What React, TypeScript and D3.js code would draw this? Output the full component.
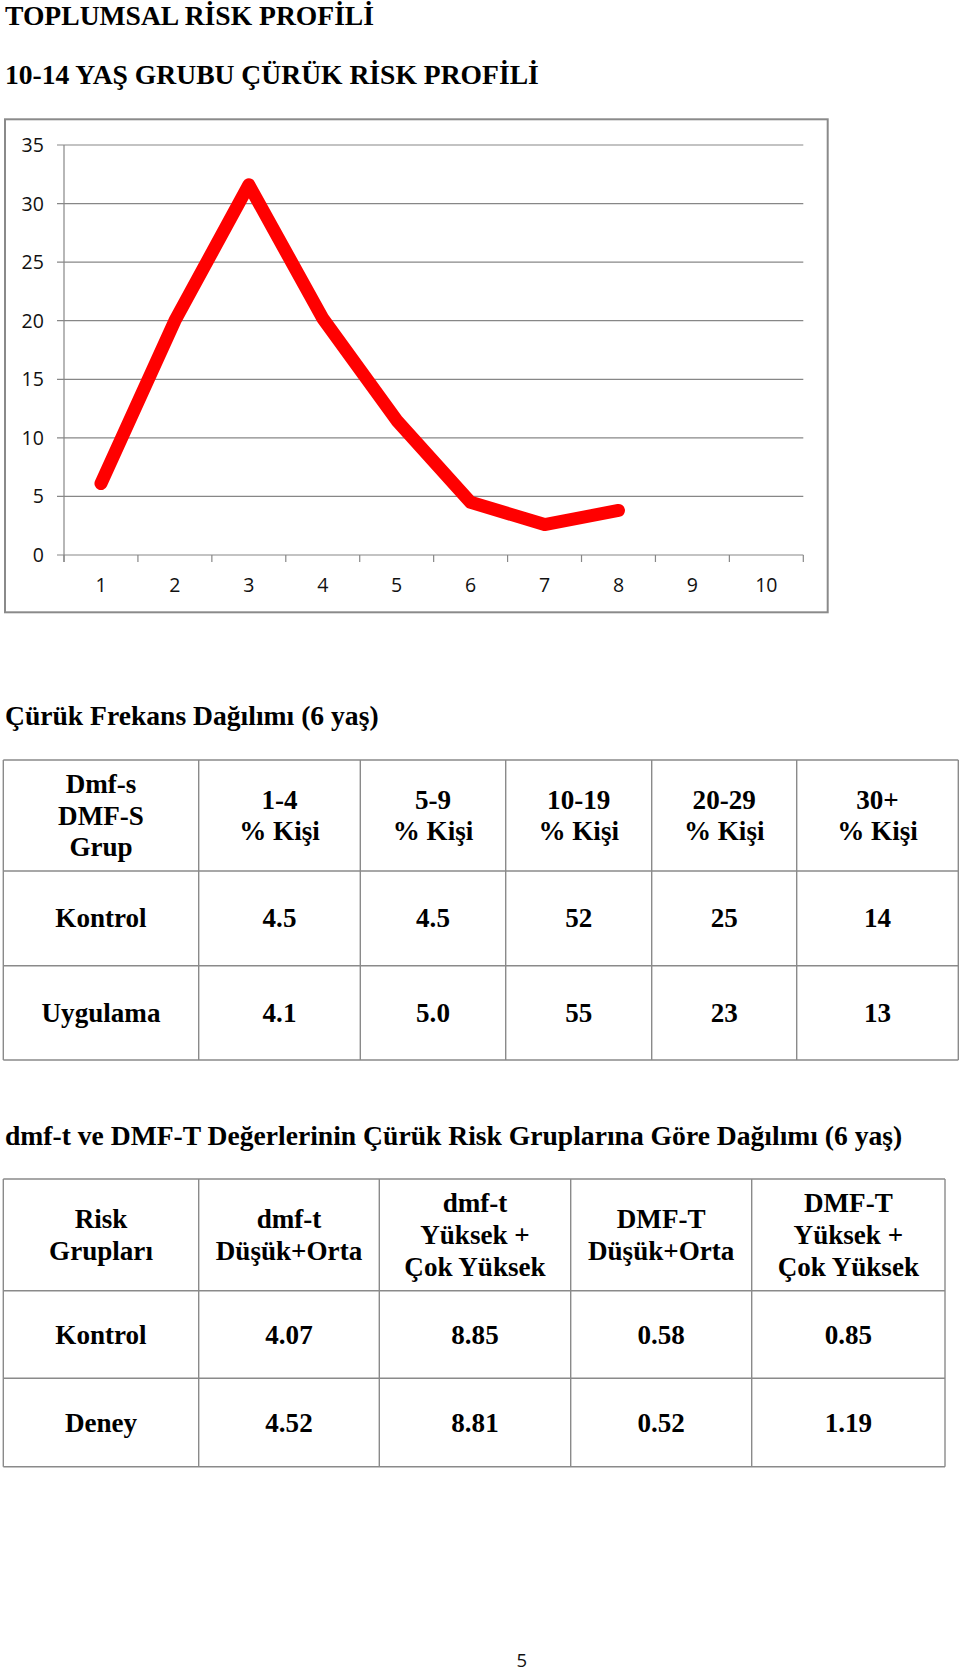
import React from "react";
import * as d3 from "d3";

// ---- Data ----
const pageTitle = "TOPLUMSAL RİSK PROFİLİ";
const chartTitle = "10-14 YAŞ GRUBU ÇÜRÜK RİSK PROFİLİ";
const categories = [1, 2, 3, 4, 5, 6, 7, 8, 9, 10];
const riskValues = [6.1, 20.0, 31.6, 20.2, 11.5, 4.5, 2.6, 3.8];
const yTicks = [0, 5, 10, 15, 20, 25, 30, 35];

const table1Title = "Çürük Frekans Dağılımı (6 yaş)";
const table1Header = [
  ["Dmf-s", "DMF-S", "Grup"],
  ["1-4", "% Kişi"],
  ["5-9", "% Kişi"],
  ["10-19", "% Kişi"],
  ["20-29", "% Kişi"],
  ["30+", "% Kişi"],
];
const table1Groups = ["Kontrol", "Uygulama"];
const table1Kontrol = ["4.5", "4.5", "52", "25", "14"];
const table1Uygulama = ["4.1", "5.0", "55", "23", "13"];

const table2Title =
  "dmf-t ve DMF-T Değerlerinin Çürük Risk Gruplarına Göre Dağılımı (6 yaş)";
const table2Header = [
  ["Risk", "Grupları"],
  ["dmf-t", "Düşük+Orta"],
  ["dmf-t", "Yüksek +", "Çok Yüksek"],
  ["DMF-T", "Düşük+Orta"],
  ["DMF-T", "Yüksek +", "Çok Yüksek"],
];
const table2Groups = ["Kontrol", "Deney"];
const table2Kontrol = [4.07, 8.85, 0.58, 0.85];
const table2Deney = [4.52, 8.81, 0.52, 1.19];

const pageNumber = "5";

// ---- Layout ----
const W = 960;
const H = 1675;
const SERIF = "'Liberation Serif', 'Times New Roman', serif";
const SANS = "'Open Sans', 'Liberation Sans', sans-serif";
const GRID = "#878787";
const BORDER = "#8a8a8a";
const TITLE_FS = 27.6;
const CELL_FS = 27.1;

type TableProps = {
  cols: number[];
  rows: number[];
  header: string[][];
  body: string[][];
  headerSpacing: number;
};

function Table({ cols, rows, header, body, headerSpacing }: TableProps) {
  const lines: React.ReactNode[] = [];
  rows.forEach((y, i) =>
    lines.push(
      <line key={"h" + i} x1={cols[0]} x2={cols[cols.length - 1]} y1={y} y2={y}
        stroke={BORDER} strokeWidth={1.4} />
    )
  );
  cols.forEach((x, i) =>
    lines.push(
      <line key={"v" + i} x1={x} x2={x} y1={rows[0]} y2={rows[rows.length - 1]}
        stroke={BORDER} strokeWidth={1.4} />
    )
  );
  const texts: React.ReactNode[] = [];
  const hc = (rows[0] + rows[1]) / 2;
  header.forEach((cell, ci) => {
    const cx = (cols[ci] + cols[ci + 1]) / 2;
    cell.forEach((t, li) => {
      const y = hc + 9.2 + (li - (cell.length - 1) / 2) * headerSpacing;
      texts.push(
        <text key={`hd${ci}-${li}`} x={cx} y={y} textAnchor="middle"
          fontFamily={SERIF} fontWeight="bold" fontSize={CELL_FS} fill="#000">
          {t}
        </text>
      );
    });
  });
  body.forEach((row, ri) => {
    const cy = (rows[ri + 1] + rows[ri + 2]) / 2;
    row.forEach((t, ci) => {
      const cx = (cols[ci] + cols[ci + 1]) / 2;
      texts.push(
        <text key={`b${ri}-${ci}`} x={cx} y={cy + 9} textAnchor="middle"
          fontFamily={SERIF} fontWeight="bold" fontSize={CELL_FS} fill="#000">
          {t}
        </text>
      );
    });
  });
  return (
    <g>
      {lines}
      {texts}
    </g>
  );
}

export default function App() {
  // Chart scales
  const plotLeft = 64;
  const plotRight = 803.3;
  const plotTop = 145;
  const plotBottom = 555;
  const x = d3
    .scaleBand<number>()
    .domain(categories)
    .range([plotLeft, plotRight])
    .paddingInner(0)
    .paddingOuter(0);
  const y = d3.scaleLinear().domain([0, 35]).range([plotBottom, plotTop]);
  const cx = (c: number) => (x(c) as number) + x.bandwidth() / 2;
  const line = d3
    .line<number>()
    .x((_, i) => cx(categories[i]))
    .y((d) => y(d));
  const tickEdges = [...categories.map((c) => x(c) as number), plotRight];

  const t1Cols = [3.3, 198.7, 360.3, 505.7, 651.7, 796.7, 958.3];
  const t1Rows = [760, 871, 965.7, 1060];
  const t2Cols = [3.3, 198.7, 379.3, 570.7, 751.7, 945];
  const t2Rows = [1179, 1290.7, 1378.3, 1466.7];

  const t1Body = [
    [table1Groups[0], ...table1Kontrol],
    [table1Groups[1], ...table1Uygulama],
  ];
  const t2Body = [
    [table2Groups[0], ...table2Kontrol.map((v) => v.toFixed(2))],
    [table2Groups[1], ...table2Deney.map((v) => v.toFixed(2))],
  ];

  return (
    <svg
      width={W}
      height={H}
      viewBox={`0 0 ${W} ${H}`}
      style={{ position: "absolute", left: 0, top: 0, background: "#fff", display: "block" }}
    >
      <rect x={0} y={0} width={W} height={H} fill="#fff" />
      <text x={5} y={25} fontFamily={SERIF} fontWeight="bold" fontSize={TITLE_FS} fill="#000">
        {pageTitle}
      </text>
      <text x={5} y={84} fontFamily={SERIF} fontWeight="bold" fontSize={TITLE_FS} fill="#000">
        {chartTitle}
      </text>

      {/* Chart frame */}
      <rect x={5} y={119.3} width={822.7} height={493} fill="#fff" stroke={BORDER} strokeWidth={2} />

      {/* Gridlines */}
      {yTicks.map((t) => (
        <line key={"g" + t} x1={plotLeft - 7} x2={plotRight} y1={y(t)} y2={y(t)}
          stroke={GRID} strokeWidth={1.2} />
      ))}
      {/* y axis */}
      <line x1={plotLeft} x2={plotLeft} y1={plotTop} y2={plotBottom + 7} stroke={GRID} strokeWidth={1.2} />
      {/* x ticks */}
      {tickEdges.map((e, i) => (
        <line key={"xt" + i} x1={e} x2={e} y1={plotBottom} y2={plotBottom + 7}
          stroke={GRID} strokeWidth={1.2} />
      ))}
      {/* y labels */}
      {yTicks.map((t) => (
        <text key={"yl" + t} x={43.8} y={y(t)} dy="0.36em" textAnchor="end"
          fontFamily={SANS} fontSize={19.5} fill="#111">
          {t}
        </text>
      ))}
      {/* x labels */}
      {categories.map((c) => (
        <text key={"xl" + c} x={cx(c)} y={592} textAnchor="middle"
          fontFamily={SANS} fontSize={19.5} fill="#111">
          {c}
        </text>
      ))}
      {/* Line */}
      <path d={line(riskValues) || ""} fill="none" stroke="#ff0000" strokeWidth={13}
        strokeLinecap="round" strokeLinejoin="round" />

      {/* Table 1 */}
      <text x={5} y={725} fontFamily={SERIF} fontWeight="bold" fontSize={TITLE_FS} fill="#000">
        {table1Title}
      </text>
      <Table cols={t1Cols} rows={t1Rows} header={table1Header} body={t1Body} headerSpacing={31.3} />

      {/* Table 2 */}
      <text x={5} y={1145} fontFamily={SERIF} fontWeight="bold" fontSize={TITLE_FS} fill="#000">
        {table2Title}
      </text>
      <Table cols={t2Cols} rows={t2Rows} header={table2Header} body={t2Body} headerSpacing={31.8} />

      <text x={521.7} y={1667} textAnchor="middle" fontFamily={SANS} fontSize={18.5} fill="#111">
        {pageNumber}
      </text>
    </svg>
  );
}
